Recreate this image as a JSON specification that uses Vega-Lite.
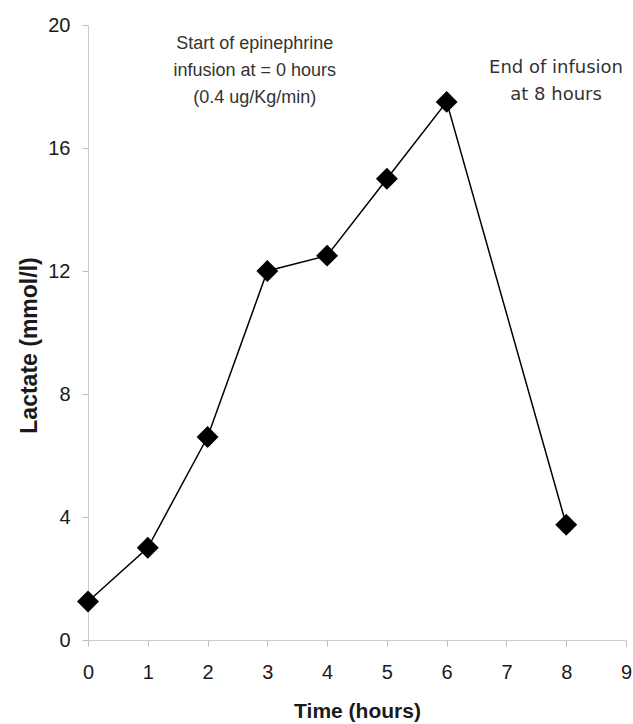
{
  "$schema": "https://vega.github.io/schema/vega-lite/v6.json",
  "width": 538,
  "height": 615,
  "autosize": {"type": "none"},
  "padding": {"left": 88, "top": 25, "right": 7, "bottom": 84},
  "background": "white",
  "config": {
    "view": {"stroke": null},
    "font": "Liberation Sans"
  },
  "datasets": {
    "points": [
      {"time": 0, "lactate": 1.25},
      {"time": 1, "lactate": 3.0},
      {"time": 2, "lactate": 6.6},
      {"time": 3, "lactate": 12.0},
      {"time": 4, "lactate": 12.5},
      {"time": 5, "lactate": 15.0},
      {"time": 6, "lactate": 17.5},
      {"time": 8, "lactate": 3.75}
    ],
    "note1": [
      {"x": 2.79, "y": 19.67, "label": ["Start of epinephrine", "infusion at = 0 hours", "(0.4 ug/Kg/min)"]}
    ],
    "note2": [
      {"x": 7.83, "y": 18.9, "label": ["End of infusion", "at 8 hours"]}
    ]
  },
  "layer": [
    {
      "data": {"name": "points"},
      "mark": {"type": "line", "color": "black", "strokeWidth": 1.5},
      "encoding": {
        "x": {
          "field": "time", "type": "quantitative",
          "scale": {"domain": [0, 9], "nice": false, "zero": false},
          "axis": {
            "title": "Time (hours)", "values": [0,1,2,3,4,5,6,7,8,9], "format": "d", "labelFlush": false,
            "grid": false, "domainColor": "#cccccc", "tickColor": "#bbbbbb", "tickSize": 6,
            "labelFontSize": 20, "labelColor": "#1a1a1a", "labelPadding": 16, "labelFont": "Liberation Sans",
            "titleFontSize": 21, "titleFontWeight": "bold", "titleColor": "#1a1a1a", "titlePadding": 18, "titleFont": "Liberation Sans"
          }
        },
        "y": {
          "field": "lactate", "type": "quantitative",
          "scale": {"domain": [0, 20], "nice": false},
          "axis": {
            "title": "Lactate (mmol/l)", "values": [0,4,8,12,16,20], "format": "d", "labelFlush": false,
            "grid": false, "domainColor": "#cccccc", "tickColor": "#bbbbbb", "tickSize": 6,
            "labelFontSize": 20, "labelColor": "#1a1a1a", "labelPadding": 12, "labelFont": "Liberation Sans",
            "titleFontSize": 23, "titleFontWeight": "bold", "titleColor": "#1a1a1a", "titlePadding": 6, "titleFont": "Liberation Sans",
            "titleY": 320
          }
        }
      }
    },
    {
      "data": {"name": "points"},
      "mark": {"type": "point", "shape": "diamond", "filled": true, "color": "black", "size": 480, "opacity": 1},
      "encoding": {
        "x": {"field": "time", "type": "quantitative"},
        "y": {"field": "lactate", "type": "quantitative"}
      }
    },
    {
      "data": {"name": "note1"},
      "mark": {"type": "text", "align": "center", "baseline": "top", "fontSize": 18, "lineHeight": 27, "color": "#333333", "font": "Liberation Sans"},
      "encoding": {
        "x": {"field": "x", "type": "quantitative"},
        "y": {"field": "y", "type": "quantitative"},
        "text": {"field": "label"}
      }
    },
    {
      "data": {"name": "note2"},
      "mark": {"type": "text", "align": "center", "baseline": "top", "fontSize": 18, "lineHeight": 27, "color": "#333333", "font": "DejaVu Sans"},
      "encoding": {
        "x": {"field": "x", "type": "quantitative"},
        "y": {"field": "y", "type": "quantitative"},
        "text": {"field": "label"}
      }
    }
  ]
}
